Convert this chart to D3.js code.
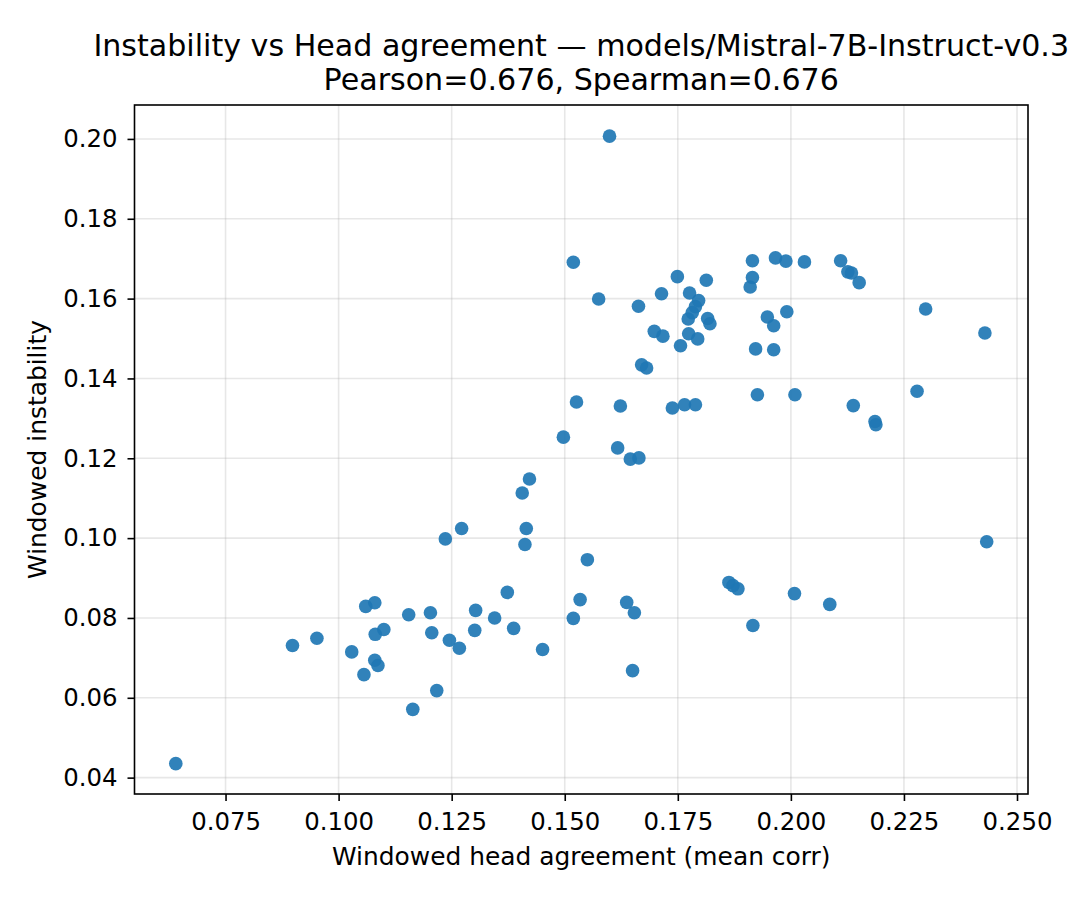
<!DOCTYPE html>
<html>
<head>
<meta charset="utf-8">
<script src="https://cdn.jsdelivr.net/npm/d3@7"></script>
<style>
  body { margin: 0; background: #fff; }
  text { font-family: "DejaVu Sans", sans-serif; fill: #000; }
</style>
</head>
<body>
<div id="chart"></div>
<script>
// head agreement (x) and instability (y)
const agreement = [
  0.0640, 0.0898, 0.0952, 0.1029, 0.1056, 0.1060, 0.1080, 0.1081, 0.1100, 0.1080,
  0.1087, 0.1155, 0.1164, 0.1203, 0.1206, 0.1217, 0.1236, 0.1272, 0.1245, 0.1267,
  0.1303, 0.1301, 0.1345, 0.1373, 0.1387, 0.1406, 0.1422, 0.1415, 0.1412, 0.1451,
  0.1497, 0.1519, 0.1534, 0.1550, 0.1526, 0.1519, 0.1575, 0.1599, 0.1617, 0.1623,
  0.1637, 0.1654, 0.1650, 0.1645, 0.1664, 0.1663, 0.1670, 0.1681, 0.1698, 0.1717,
  0.1714, 0.1738, 0.1749, 0.1756, 0.1765, 0.1773, 0.1774, 0.1776, 0.1782, 0.1789,
  0.1796, 0.1789, 0.1794, 0.1813, 0.1816, 0.1821, 0.1863, 0.1872, 0.1883, 0.1910,
  0.1915, 0.1915, 0.1916, 0.1922, 0.1926, 0.1948, 0.1962, 0.1962, 0.1966, 0.1989,
  0.1991, 0.2008, 0.2009, 0.2030, 0.2086, 0.2110, 0.2126, 0.2134, 0.2138, 0.2151,
  0.2186, 0.2188, 0.2279, 0.2298, 0.2429, 0.2433
];
const instability = [
  0.0435, 0.0731, 0.0749, 0.0715, 0.0658, 0.0829, 0.0838, 0.0759, 0.0771, 0.0694,
  0.0681, 0.0808, 0.0571, 0.0813, 0.0763, 0.0618, 0.0998, 0.1024, 0.0744, 0.0724,
  0.0819, 0.0769, 0.0800, 0.0864, 0.0774, 0.1113, 0.1148, 0.1024, 0.0984, 0.0721,
  0.1253, 0.0799, 0.0846, 0.0946, 0.1341, 0.1691, 0.1599, 0.2007, 0.1226, 0.1331,
  0.0839, 0.0813, 0.0668, 0.1198, 0.1201, 0.1581, 0.1434, 0.1426, 0.1518, 0.1506,
  0.1612, 0.1326, 0.1655, 0.1482, 0.1334, 0.1549, 0.1512, 0.1614, 0.1565, 0.1580,
  0.1595, 0.1334, 0.1499, 0.1646, 0.1550, 0.1537, 0.0889, 0.0881, 0.0873, 0.1629,
  0.1653, 0.1695, 0.0781, 0.1474, 0.1359, 0.1554, 0.1532, 0.1472, 0.1702, 0.1694,
  0.1567, 0.0861, 0.1359, 0.1692, 0.0834, 0.1695, 0.1667, 0.1664, 0.1332, 0.1640,
  0.1292, 0.1284, 0.1368, 0.1574, 0.1514, 0.0991
];
const xTicks = [0.075, 0.100, 0.125, 0.150, 0.175, 0.200, 0.225, 0.250];
const yTicks = [0.04, 0.06, 0.08, 0.10, 0.12, 0.14, 0.16, 0.18, 0.20];

const titleText = "Instability vs Head agreement \u2014 models/Mistral-7B-Instruct-v0.3";
const subtitleText = "Pearson=0.676, Spearman=0.676";

const W = 1080, H = 900;
const margin = { top: 105, right: 52, bottom: 106, left: 134.5 },
    width = W - margin.left - margin.right,
    height = H - margin.top - margin.bottom;

const svg = d3.select("#chart").append("svg")
    .attr("width", W)
    .attr("height", H);

const g = svg.append("g")
    .attr("transform", `translate(${margin.left}, ${margin.top})`);

const x = d3.scaleLinear()
    .domain([0.05487, 0.25243])
    .range([0, width]);

const y = d3.scaleLinear()
    .domain([0.0359, 0.2085])
    .range([height, 0]);

// grid
g.append("g").selectAll("line")
  .data(xTicks)
  .enter().append("line")
    .attr("x1", d => x(d)).attr("x2", d => x(d))
    .attr("y1", 0).attr("y2", height)
    .attr("stroke", "#b0b0b0").attr("stroke-opacity", 0.3).attr("stroke-width", 1.6);
g.append("g").selectAll("line")
  .data(yTicks)
  .enter().append("line")
    .attr("y1", d => y(d)).attr("y2", d => y(d))
    .attr("x1", 0).attr("x2", width)
    .attr("stroke", "#b0b0b0").attr("stroke-opacity", 0.3).attr("stroke-width", 1.6);

// points
g.append("g").selectAll("circle")
  .data(agreement.map((d, i) => [d, instability[i]]))
  .enter().append("circle")
    .attr("cx", d => x(d[0]))
    .attr("cy", d => y(d[1]))
    .attr("r", 6.8)
    .attr("fill", "#1f77b4")
    .attr("fill-opacity", 0.92);

// axes
const xAxis = g.append("g")
    .attr("transform", `translate(0, ${height})`)
    .call(d3.axisBottom(x).tickValues(xTicks).tickFormat(d3.format(".3f")).tickSizeOuter(0).tickSize(7).tickPadding(12));
const yAxis = g.append("g")
    .call(d3.axisLeft(y).tickValues(yTicks).tickFormat(d3.format(".2f")).tickSizeOuter(0).tickSize(7).tickPadding(10));
[xAxis, yAxis].forEach(a => {
  a.selectAll("text").style("font-size", "24.4px").style("font-family", "DejaVu Sans");
  a.selectAll("line").attr("stroke-width", 1.6);
  a.select(".domain").remove();
});

// frame
g.append("rect")
    .attr("width", width).attr("height", height)
    .attr("fill", "none").attr("stroke", "#000").attr("stroke-width", 1.6);

// labels
svg.append("text")
    .attr("x", margin.left + width / 2).attr("y", 865)
    .attr("text-anchor", "middle").style("font-size", "24.9px")
    .text("Windowed head agreement (mean corr)");
svg.append("text")
    .attr("transform", `translate(46, ${margin.top + height / 2}) rotate(-90)`)
    .attr("text-anchor", "middle").style("font-size", "24.9px")
    .text("Windowed instability");

svg.append("text")
    .attr("x", margin.left + width / 2).attr("y", 56)
    .attr("text-anchor", "middle").style("font-size", "30.1px")
    .text(titleText);
svg.append("text")
    .attr("x", margin.left + width / 2).attr("y", 90)
    .attr("text-anchor", "middle").style("font-size", "30.1px")
    .text(subtitleText);
</script>
</body>
</html>
